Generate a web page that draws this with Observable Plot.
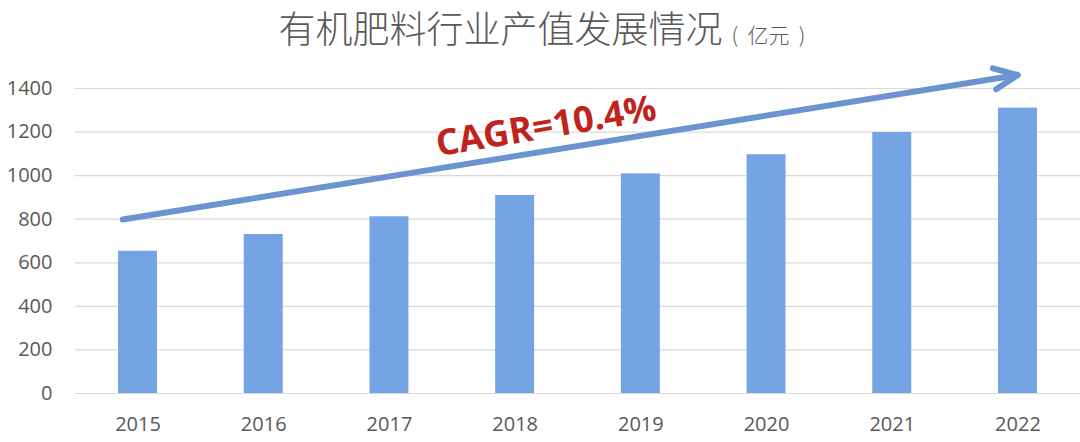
<!DOCTYPE html>
<html>
<head>
<meta charset="utf-8">
<script src="https://cdn.jsdelivr.net/npm/d3@7"></script>
<script src="https://cdn.jsdelivr.net/npm/@observablehq/plot@0.6"></script>
<style>
  html, body { margin: 0; padding: 0; background: #fff; }
  #title { width: 1080px; height: 62px; display: flex; justify-content: center; align-items: baseline;
    font-family: "Noto Sans CJK SC", sans-serif; color: #595959; font-weight: 300; box-sizing: border-box; padding-top: 9px; padding-left: 4px; }
  #title .main { font-size: 37px; line-height: 1; }
  #title .unit { font-size: 21px; line-height: 1; margin-left: 9px; white-space: pre; }
  #chart svg { display: block; }
</style>
</head>
<body>
<div id="title"><span class="main">有机肥料行业产值发展情况</span><span class="unit">(  亿元  )</span></div>
<div id="chart"></div>
<script>
const years = ["2015", "2016", "2017", "2018", "2019", "2020", "2021", "2022"];
const values = [653, 730, 811, 909, 1008, 1096, 1198, 1310];
const yTicks = [0, 200, 400, 600, 800, 1000, 1200, 1400];
// trend arrow annotation (data units): start and end
const trendYears = ["2015", "2022"];
const trendValues = [810, 1462];
const cagrLabel = ["CAGR=10.4%"];

const data = years.map((y, i) => ({year: y, value: values[i]}));
const arrow = [{x1: trendYears[0], y1: trendValues[0], x2: trendYears[1], y2: trendValues[1]}];

const chart = Plot.plot({
  width: 1080,
  height: 380,
  marginLeft: 75,
  marginRight: 0,
  marginTop: 26,
  marginBottom: 49,
  style: {fontFamily: "'Open Sans', sans-serif", fontSize: "20px", color: "#595959", overflow: "visible"},
  x: {domain: years, paddingInner: 0.69, paddingOuter: 0.3425, round: false, label: null},
  y: {domain: [0, 1400], ticks: yTicks, label: null},
  marks: [
    Plot.gridY(yTicks, {stroke: "#d9d9d9", strokeOpacity: 1, strokeWidth: 1.2}),
    Plot.barY(data, {x: "year", y: "value", fill: "#74a4e4"}),
    Plot.axisY(yTicks, {tickSize: 0, tickPadding: 23, fill: "#595959", fontSize: 20, tickFormat: d => String(d)}),
    Plot.axisX({tickSize: 0, tickPadding: 23, fill: "#595959", fontSize: 20}),
    Plot.arrow(arrow, {
      x1: "x1", y1: "y1", x2: "x2", y2: "y2",
      stroke: "#6b93d0", strokeWidth: 6, headLength: 6.5, headAngle: 48,
      insetStart: -15.5, insetEnd: 0,
      clip: false
    }),
    Plot.text(cagrLabel, {
      x: () => "2018", y: () => 1225, text: d => d, dx: 31, dy: 0,
      fill: "#c0231b", fontSize: 36, fontWeight: "bold", rotate: -9.5,
      fontFamily: "'Open Sans', sans-serif"
    })
  ]
});
document.getElementById("chart").appendChild(chart);
</script>
</body>
</html>
